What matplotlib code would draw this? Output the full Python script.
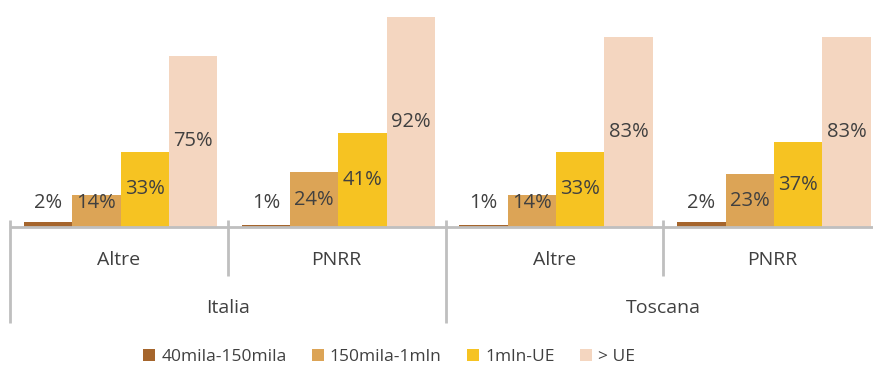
import matplotlib
matplotlib.use("Agg")
import matplotlib.pyplot as plt
from matplotlib.transforms import blended_transform_factory
from matplotlib.patches import Patch

plt.rcParams['font.family'] = ['Open Sans', 'DejaVu Sans']

regions = ["Italia", "Toscana"]
kinds = ["Altre", "PNRR"]
series = ["40mila-150mila", "150mila-1mln", "1mln-UE", "> UE"]
colors = ["#A5652C", "#DCA456", "#F6C322", "#F4D6C0"]
# values per series, ordered Italia-Altre, Italia-PNRR, Toscana-Altre, Toscana-PNRR
v_small = [2, 1, 1, 2]
v_mid = [14, 24, 14, 23]
v_large = [33, 41, 33, 37]
v_ue = [75, 92, 83, 83]
values = [v_small, v_mid, v_large, v_ue]

W, H = 873, 371
fig = plt.figure(figsize=(W / 100, H / 100), dpi=100)
base_px = 227
scale = 2.285
ax = fig.add_axes([10 / W, (H - base_px) / H, 871 / W, 100 * scale / H])
ax.set_xlim(0, 4)
ax.set_ylim(0, 100)
ax.axis("off")

text_col = "#404040"
grid_col = "#BFBFBF"
bw = 0.222
off = 0.064
for s, (vals, col) in enumerate(zip(values, colors)):
    for g, v in enumerate(vals):
        left = g + off + s * bw
        ax.bar(left, v, width=bw, align="edge", color=col, edgecolor="none")
        ax.text(left + bw / 2, max(v / 2, 10.5), f"{v}%", ha="center", va="center",
                fontsize=14.5, color=text_col)

tr = blended_transform_factory(ax.transData, fig.transFigure)
def fy(px):
    return 1 - px / H

ax.plot([0, 4], [0, 0], color=grid_col, lw=2, clip_on=False, solid_capstyle="butt")
for x in range(5):
    bottom = 323 if x % 2 == 0 else 276
    ax.plot([x, x], [fy(220), fy(bottom)], color=grid_col, lw=2, transform=tr,
            clip_on=False, solid_capstyle="butt")

for g in range(4):
    ax.text(g + 0.5, fy(260), kinds[g % 2], ha="center", va="center",
            fontsize=14, color=text_col, transform=tr)
for r, name in enumerate(regions):
    ax.text(2 * r + 1, fy(308), name, ha="center", va="center",
            fontsize=14, color=text_col, transform=tr)

handles = [Patch(facecolor=c, edgecolor="none", label=l) for c, l in zip(colors, series)]
fig.legend(handles=handles, loc="center", bbox_to_anchor=(389 / W, fy(357)), ncol=4,
           frameon=False, fontsize=12.5, handlelength=0.7, handleheight=0.7,
           handletextpad=0.35, columnspacing=1.45, labelcolor=text_col)

fig.savefig("out.png", dpi=100)
